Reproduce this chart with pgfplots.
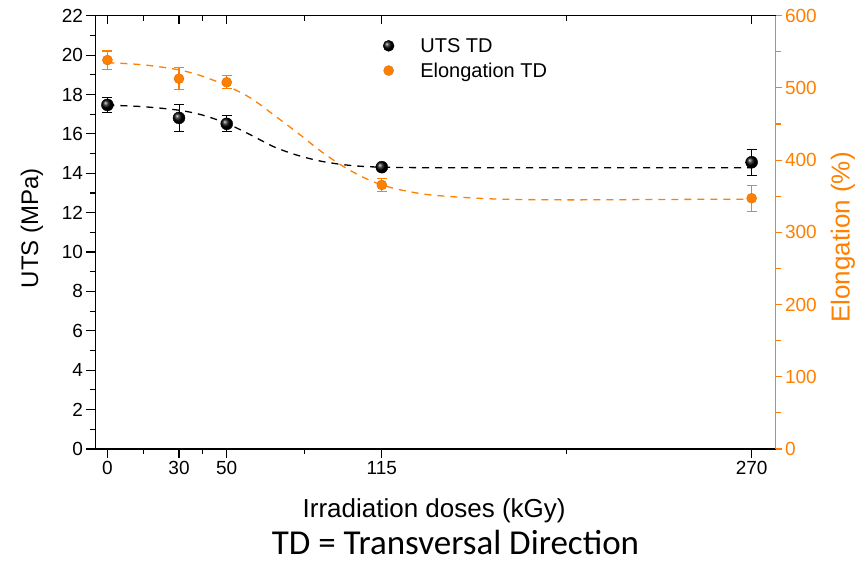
\documentclass[border=0pt]{standalone}
\usepackage{fontspec}
\setmainfont{Liberation Sans}
\newfontfamily\calfont{Carlito}
\usepackage{pgfplots}
\pgfplotsset{compat=1.18}
\definecolor{org}{RGB}{255,128,0}
\pgfplotsset{
  base/.style={scale only axis, width=680pt, height=433.3pt, xmin=-5, xmax=280,
    at={(0pt,0pt)}, anchor=south west,
    /pgf/number format/assume math mode=true,
    tick label style={font=\fontsize{19}{22}\selectfont},
    axis line style={-, line width=1.2pt},
    every tick/.style={line width=1.1pt},
    xtick={0,30,50,115,270}, minor xtick={15,40,82.5,192.5},
  },
  dsh/.style={line width=1.3pt, dash pattern=on 7pt off 6pt, smooth, tension=0.5},
}
\begin{document}
\begin{tikzpicture}
\path[use as bounding box] (-95.5pt,-115pt) rectangle (766.5pt,449pt);
% UTS axis
\begin{axis}[base, ymin=0, ymax=22,
  axis y line*=left, axis x line*=bottom, tick align=outside,
  ytick={0,2,...,22}, minor ytick={1,3,...,21},
  major tick length=9pt, minor tick length=5pt,
  every tick/.append style={black},
  xlabel={Irradiation doses (kGy)},
  xlabel style={at={(axis description cs:0.498,-0.157)}, anchor=base, font=\fontsize{26}{30}\selectfont},
  ylabel={UTS (MPa)},
  ylabel style={at={(axis description cs:-0.0934,0.51)}, anchor=center, font=\fontsize{24}{28}\selectfont},
]
\addplot[black, dsh] coordinates {(0,17.46)(15,17.38)(30,17.2)(40,16.95)(50,16.53)(60,15.95)(70,15.33)(80,14.9)(90,14.6)(100,14.42)(110,14.33)(125,14.29)(150,14.28)(200,14.28)(270,14.28)};
\addplot[black, only marks, mark=none,
  error bars/.cd, y dir=both, y explicit,
  error bar style={black, line width=1pt},
  error mark options={rotate=90, mark size=5pt, line width=1pt, black}]
  coordinates {(0,17.47) +- (0,0.36) (30,16.81) +- (0,0.68) (50,16.51) +- (0,0.4) (115,14.31) +- (0,0) (270,14.56) +- (0,0.66)};
\addplot[black, only marks, mark=ball, mark size=6pt, mark options={ball color=black}]
  coordinates {(0,17.47) (30,16.81) (50,16.51) (115,14.31) (270,14.56)};
\end{axis}
% top ticks
\begin{axis}[base, ymin=0, ymax=1, axis x line*=top, axis y line=none, tick align=inside,
  xticklabels={}, major tick length=8pt, minor tick length=5pt, every tick/.append style={black}]
\addplot[draw=none] coordinates {(0,0)};
\end{axis}
% Elongation axis
\begin{axis}[base, ymin=0, ymax=600,
  axis y line*=right, axis x line=none, tick align=outside,
  ytick={0,100,...,600}, minor ytick={50,150,...,550},
  major tick length=6pt, minor tick length=5pt,
  y axis line style={org}, every tick/.append style={org},
  yticklabel style={org},
  ylabel={Elongation (\%)},
  ylabel style={org, at={(axis description cs:1.099,0.488)}, anchor=center, font=\fontsize{26}{30}\selectfont},
  legend style={at={(rel axis cs:0.418,0.958)}, anchor=north west, draw=none, fill=none,
    font=\fontsize{20}{24}\selectfont, row sep=5pt},
  legend cell align=left,
  legend style={/tikz/every odd column/.append style={column sep=24pt}},
]
\addlegendimage{only marks, mark=ball, mark size=5.5pt, mark options={ball color=black}}
\addlegendentry{UTS TD}
\addplot[org, dsh, forget plot] coordinates {(0,535)(15,532)(30,525)(40,516)(50,503)(60,486)(70,462)(80,437)(90,411)(100,389)(110,372)(120,361)(135,352)(160,346.5)(190,345)(230,345.5)(270,346)};
\addplot[draw=org, only marks, mark=none, forget plot,
  error bars/.cd, y dir=both, y explicit,
  error bar style={draw=org, solid, line width=1.1pt},
  error mark options={rotate=90, mark size=5pt, line width=1.1pt, draw=org}]
  coordinates {(0,538.6) +- (0,12.5) (30,512.8) +- (0,15) (50,507.8) +- (0,9) (115,365.6) +- (0,9) (270,347.2) +- (0,18)};
\addplot[org, only marks, mark=*, mark size=5pt, mark options={fill=org, draw=org!85!black, line width=0.4pt}]
  coordinates {(0,538.6) (30,512.8) (50,507.8) (115,365.6) (270,347.2)};
\addlegendentry{Elongation TD}
\end{axis}
\node[font=\calfont\fontsize{35}{40}\selectfont, anchor=base, inner sep=0pt] at (360pt,-106pt) {TD = Transversal Direction};
\end{tikzpicture}
\end{document}
